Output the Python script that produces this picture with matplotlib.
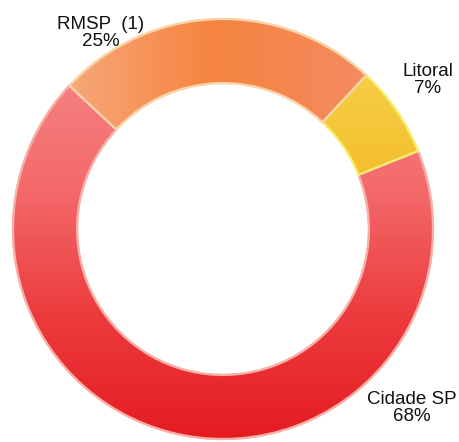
import numpy as np
import matplotlib
matplotlib.use("Agg")
import matplotlib.pyplot as plt
from matplotlib.colors import LinearSegmentedColormap
from matplotlib.patches import Wedge

# Regional share
regions = ["Cidade SP", "Litoral", "RMSP  (1)"]
shares = [68, 7, 25]
pct_labels = ["68%", "7%", "25%"]

W, H = 459, 442
fig = plt.figure(figsize=(W / 100, H / 100), dpi=100)
cx, cy, R = 223, 229, 210
ax = fig.add_axes([(cx - R) / W, (H - cy - R) / H, 2 * R / W, 2 * R / H])
ax.axis("off")

base_colors = ["#EE4A4C", "#F6C63C", "#F58A52"]
edge_colors = ["#F7B0A8", "#F6EE6C", "#F8D4A8"]
wedges, _ = ax.pie(shares, startangle=137, counterclock=True, radius=1.0,
                   colors=base_colors,
                   wedgeprops=dict(width=0.305, linewidth=1.6))
for w, ec in zip(wedges, edge_colors):
    w.set_edgecolor(ec)
    w.set_clip_on(False)

# Soft shading inside each wedge
n = 400
xs = np.linspace(-1, 1, n)
X, Y = np.meshgrid(xs, xs[::-1])
shades = [
    (LinearSegmentedColormap.from_list("c", ["#E41C22", "#EC3C3E", "#F46A6B", "#F68484"]),
     (Y + 1.0) / 1.8),
    (LinearSegmentedColormap.from_list("l", ["#F4C030", "#F7D048"]),
     (Y - 0.3) / 0.5),
    (LinearSegmentedColormap.from_list("r", ["#F7A676", "#F5843F", "#F48A5E"]),
     (X + 0.7) / 1.3),
]
for w, (cmap, field) in zip(wedges, shades):
    im = ax.imshow(np.clip(field, 0, 1), cmap=cmap, vmin=0, vmax=1,
                   extent=(-1, 1, -1, 1), zorder=w.get_zorder() + 0.1,
                   interpolation="bilinear")
    im.set_clip_path(w)
    ol = Wedge(w.center, w.r, w.theta1, w.theta2, width=w.width, fill=False,
               edgecolor=w.get_edgecolor(), linewidth=1.6,
               zorder=im.get_zorder() + 0.1, clip_on=False)
    ax.add_patch(ol)
ax.set_xlim(-1, 1)
ax.set_ylim(-1, 1)
ax.set_aspect("equal")

def to_data(px, py):
    return (px - cx) / R, (cy - py) / R

label_pos = [(412, 408), (428, 80), (101, 33)]
for name, pct, (px, py) in zip(regions, pct_labels, label_pos):
    x, y = to_data(px, py)
    ax.text(x, y, f"{name}\n{pct}", ha="center", va="center",
            fontsize=13.5, family="Liberation Sans", color="#111111",
            linespacing=1.0, clip_on=False, zorder=10)

fig.savefig("out.png", dpi=100)
